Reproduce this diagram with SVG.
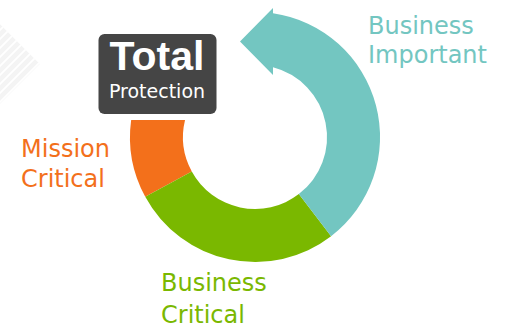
<svg xmlns="http://www.w3.org/2000/svg" width="510" height="328" viewBox="0 0 510 328">
  <defs>
    <style>
      .lbl { font-family: "DejaVu Sans", "Liberation Sans", sans-serif; font-size: 24px; }
      .teal { fill: #73C6C1; }
      .green { fill: #7AB800; }
      .orange { fill: #F3701B; }
      .stripe { stroke: #ffffff; stroke-width: 1.6; }
    </style>
    <clipPath id="diamondClip">
      <polygon points="-40,64 0,24 40,64 0,104"/>
    </clipPath>
  </defs>
  <rect width="510" height="328" fill="#ffffff"/>

  <g id="background-pattern" clip-path="url(#diamondClip)">
    <polygon points="-40,64 0,24 40,64 0,104" fill="#f4f4f4"/>
    <line class="stripe" x1="-20" y1="50" x2="60" y2="-30"/>
    <line class="stripe" x1="-20" y1="59" x2="60" y2="-21"/>
    <line class="stripe" x1="-20" y1="68" x2="60" y2="-12"/>
    <line class="stripe" x1="-20" y1="77" x2="60" y2="-3"/>
    <line class="stripe" x1="-20" y1="86" x2="60" y2="6"/>
    <line class="stripe" x1="-20" y1="95" x2="60" y2="15"/>
    <line class="stripe" x1="-20" y1="104" x2="60" y2="24"/>
    <line class="stripe" x1="-20" y1="113" x2="60" y2="33"/>
    <line class="stripe" x1="-20" y1="122" x2="60" y2="42"/>
    <line class="stripe" x1="-20" y1="131" x2="60" y2="51"/>
  </g>

  <g id="segment-mission-critical">
    <path class="orange" d="M131.16,120 L185.04,120 A72,72 0 0,0 191.78,171.47 L145.25,196.84 A125,125 0 0,1 131.16,120 Z"/>
  </g>
  <g id="segment-business-critical">
    <path class="green" d="M145.25,196.84 A125,125 0 0,0 331.1,236.2 L298.83,194.12 A72,72 0 0,1 191.78,171.47 Z"/>
  </g>
  <g id="segment-business-important">
    <path class="teal" d="M331.1,236.2 A125,125 0 0,0 273,13.3 L273,8 L240,41.5 L273,75 L273,67.29 A72,72 0 0,1 298.83,194.12 Z"/>
  </g>

  <g id="total-protection">
    <rect x="98.5" y="34" width="118" height="80" rx="6" fill="#454545"/>
    <text x="157" y="69.5" text-anchor="middle" fill="#ffffff" font-family="'Liberation Sans', Arial, sans-serif" font-weight="bold" font-size="41">Total</text>
    <text x="157" y="97.5" text-anchor="middle" fill="#ffffff" font-family="'DejaVu Sans', 'Liberation Sans', sans-serif" font-size="19">Protection</text>
  </g>

  <g id="label-business-important">
    <text class="lbl teal" x="368" y="33.5">Business</text>
    <text class="lbl teal" x="368" y="62.5">Important</text>
  </g>
  <g id="label-mission-critical">
    <text class="lbl orange" x="21" y="157">Mission</text>
    <text class="lbl orange" x="21" y="187">Critical</text>
  </g>
  <g id="label-business-critical">
    <text class="lbl green" x="161" y="291">Business</text>
    <text class="lbl green" x="161" y="323">Critical</text>
  </g>
</svg>
